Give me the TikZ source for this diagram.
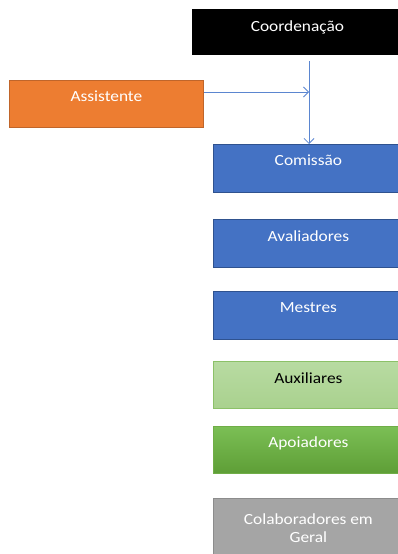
\documentclass[tikz,border=0pt]{standalone}
\usepackage{fontspec}
\setmainfont{Carlito}[FakeStretch=1.12]
\usetikzlibrary{arrows.meta}
\definecolor{cblue}{HTML}{4472C4}
\definecolor{cblueb}{HTML}{2F528F}
\definecolor{corange}{HTML}{ED7D31}
\definecolor{corangeb}{HTML}{C0652A}
\definecolor{cltg}{HTML}{A9D18E}
\definecolor{cltgt}{HTML}{B8DBA2}
\definecolor{cltgb}{HTML}{8CC168}
\definecolor{cgreen}{HTML}{70AD47}
\definecolor{cgreent}{HTML}{7BBF55}
\definecolor{cgreenbt}{HTML}{5E9E36}
\definecolor{cgray}{HTML}{A5A5A5}
\definecolor{cgrayb}{HTML}{8C8C8C}
\definecolor{cline}{HTML}{5B86D0}
\tikzset{
  box/.style={rectangle, anchor=north west, inner xsep=0pt, inner ysep=0pt,
    minimum width=190pt, font=\fontsize{15.5}{18}\selectfont, line width=0.8pt},
  bluebox/.style={box, fill=cblue, draw=cblueb, text=white},
  conn/.style={draw=cline, line width=0.8pt},
  tipv/.style={-{Straight Barb[length=5pt,width=10pt,line width=0.8pt]}}
}
\begin{document}
\begin{tikzpicture}[x=1pt,y=1pt]
\useasboundingbox (0,0) rectangle (398,-554);
\clip (0,0) rectangle (398,-554);
\node[box, fill=black, draw=black, text=white, minimum width=210pt,
  text height=22pt, text depth=23pt] (coord) at (192,-9) {Coordenação};
\node[box, fill=corange, draw=corangeb, text=white, minimum width=194pt,
  text height=21pt, text depth=26pt] (assist) at (9,-80) {Assistente};
\node[bluebox, text height=21pt, text depth=27pt] (comissao) at (213,-144) {Comissão};
\node[bluebox, text height=22pt, text depth=26pt] (aval) at (213,-219) {Avaliadores};
\node[bluebox, text height=21pt, text depth=27pt] (mestres) at (213,-291) {Mestres};
\node[box, top color=cltgt, bottom color=cltg, draw=cltgb, text=black,
  text height=22pt, text depth=25pt] (aux) at (213,-361) {Auxiliares};
\node[box, top color=cgreent, bottom color=cgreenbt, draw=cgreen, text=white,
  text height=21pt, text depth=26pt] (apoi) at (213,-426) {Apoiadores};
\node[box, fill=cgray, draw=cgrayb, text=white, align=center,
  text height=44pt, text depth=16pt] (colab) at (213,-498) {Colaboradores em\\Geral};
\coordinate (top) at (309,-61);
\coordinate (j) at (309,-92);
\draw[conn, tipv] (top) -- (top |- comissao.north);
\draw[conn, tipv] (assist.east |- j) -- (j);
\end{tikzpicture}
\end{document}
